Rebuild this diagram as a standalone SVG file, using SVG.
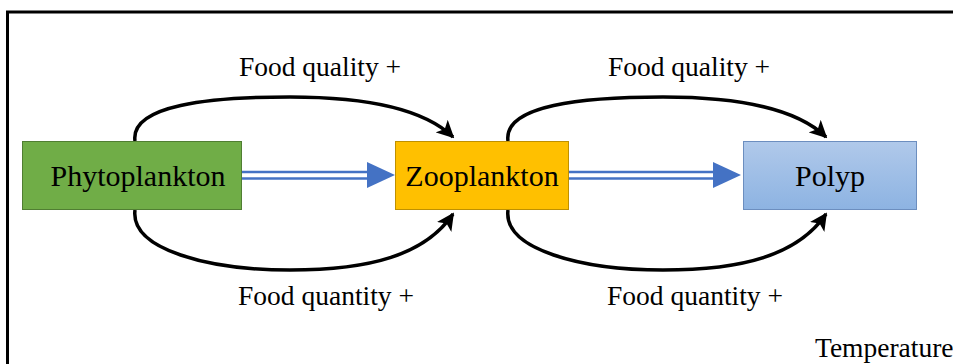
<svg xmlns="http://www.w3.org/2000/svg" width="953" height="364" viewBox="0 0 953 364">
<defs>
<linearGradient id="pg" x1="0" y1="0" x2="0" y2="1">
<stop offset="0" stop-color="#B0C9EA"/>
<stop offset="1" stop-color="#8DB3E2"/>
</linearGradient>
<marker id="ah" viewBox="0 0 10 10" refX="9" refY="5" markerWidth="5" markerHeight="5" orient="auto" markerUnits="strokeWidth">
<path d="M0,0 L10,5 L0,10 L2.5,5 Z" fill="#000"/>
</marker>
</defs>
<style>
text{font-family:"Liberation Serif","Times New Roman",serif;fill:#000}
.lbl{font-size:27.5px;text-anchor:middle}
.nt{font-size:30px;text-anchor:middle}
.cur{fill:none;stroke:#000;stroke-width:3.5}
.dl{stroke:#4472C4;stroke-width:2.5}
.hd{fill:#4472C4}
</style>
<rect x="7.5" y="12" width="960" height="370" fill="#fff" stroke="#000" stroke-width="3"/>
<g id="connectors">
<path class="cur" d="M135,141 C130,105 210,97 290,97 C370,97 425,110 453,137" marker-end="url(#ah)"/>
<path class="cur" d="M135,210 C130,250 210,270 290,270 C370,270 425,255 453,214" marker-end="url(#ah)"/>
<path class="cur" d="M508,141 C503,105 583,97 663,97 C743,97 798,110 826,137" marker-end="url(#ah)"/>
<path class="cur" d="M508,210 C503,250 583,270 663,270 C743,270 798,255 826,214" marker-end="url(#ah)"/>
<line class="dl" x1="242" y1="172" x2="370" y2="172"/>
<line class="dl" x1="242" y1="178.5" x2="370" y2="178.5"/>
<path class="hd" d="M367,162 L395,175 L367,188 Z"/>
<line class="dl" x1="569" y1="172" x2="716" y2="172"/>
<line class="dl" x1="569" y1="178.5" x2="716" y2="178.5"/>
<path class="hd" d="M713,162 L741,175 L713,188 Z"/>
</g>
<g id="phytoplankton">
<rect x="22.5" y="141.5" width="219" height="68" fill="#70AD47" stroke="#507E32" stroke-width="1"/>
<text class="nt" x="138" y="186">Phytoplankton</text>
</g>
<g id="zooplankton">
<rect x="395.5" y="141.5" width="173" height="68" fill="#FFC000" stroke="#BF9000" stroke-width="1"/>
<text class="nt" x="482" y="186">Zooplankton</text>
</g>
<g id="polyp">
<rect x="743.5" y="141.5" width="173" height="68" fill="url(#pg)" stroke="#6C8EBF" stroke-width="1"/>
<text class="nt" x="830" y="186">Polyp</text>
</g>
<g id="labels">
<text class="lbl" x="320" y="76">Food quality +</text>
<text class="lbl" x="326" y="305">Food quantity +</text>
<text class="lbl" x="689" y="76">Food quality +</text>
<text class="lbl" x="695" y="305">Food quantity +</text>
<text x="815" y="357" style="font-size:27.5px">Temperature</text>
</g>
</svg>
